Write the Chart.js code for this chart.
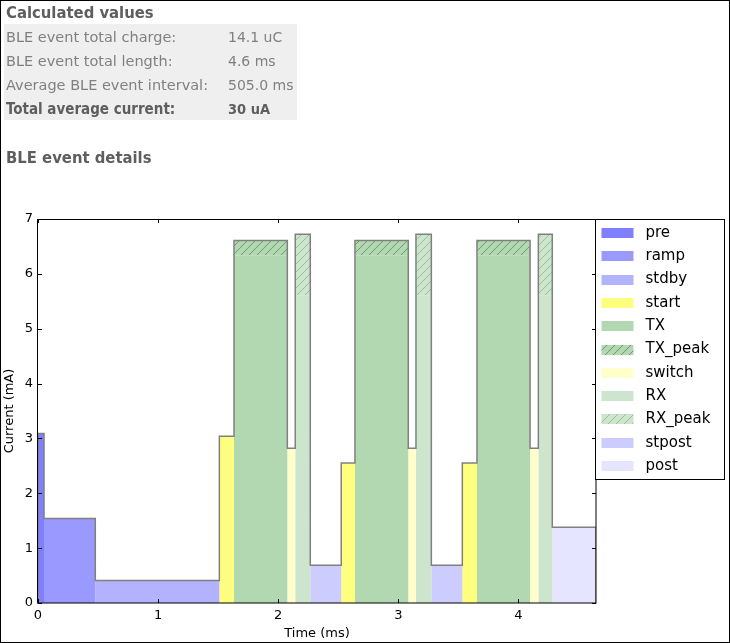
<!DOCTYPE html>
<html>
<head>
<meta charset="utf-8">
<script src="https://cdn.jsdelivr.net/npm/chart.js@4/dist/chart.umd.min.js"></script>
<style>
html,body{margin:0;padding:0;background:#fff;}
body{width:730px;height:643px;position:relative;overflow:hidden;font-family:"DejaVu Sans",sans-serif;}
#frame{position:absolute;left:0;top:0;width:730px;height:643px;box-sizing:border-box;border:1px solid #000;pointer-events:none;z-index:5;}
#wrap{position:absolute;left:0;top:0;width:730px;height:643px;z-index:1;}
#tbl{position:absolute;left:4px;top:24px;width:293px;height:96px;background:#efefef;z-index:0;}
.h{position:absolute;left:6px;font-family:"DejaVu Sans Condensed","DejaVu Sans",sans-serif;font-weight:bold;font-size:16.5px;color:#5e5e5e;line-height:20px;white-space:nowrap;z-index:2;}
.row{position:absolute;left:6px;font-size:14.5px;color:#808080;height:24px;line-height:24px;white-space:nowrap;z-index:2;}
.row .v{position:absolute;left:222px;font-size:14px;}
.row.b{font-family:"DejaVu Sans Condensed","DejaVu Sans",sans-serif;font-weight:bold;font-size:15px;color:#5e5e5e;}
.row.b .v{font-size:14.5px;}
</style>
</head>
<body>
<div id="tbl"></div>
<div class="h" style="top:3px">Calculated values</div>
<div class="row" style="top:25px">BLE event total charge:<span class="v">14.1 uC</span></div>
<div class="row" style="top:49px">BLE event total length:<span class="v">4.6 ms</span></div>
<div class="row" style="top:73px">Average BLE event interval:<span class="v">505.0 ms</span></div>
<div class="row b" style="top:97px">Total average current:<span class="v">30 uA</span></div>
<div class="h" style="top:148px">BLE event details</div>
<div id="wrap"><canvas id="c" width="730" height="643"></canvas></div>
<div id="frame"></div>
<script>
// ---- data ----
const categories = ['pre','ramp','stdby','start','TX','TX_peak','switch','RX','RX_peak','stpost','post'];
const categoryColors = ['#7f7fff','#9999ff','#b2b2ff','#ffff7f','#b2d8b2','hatchTX','#ffffcc','#cce5cc','hatchRX','#ccccff','#e5e5ff'];
const segCategory = ['pre','ramp','stdby','start','TX','switch','RX','stpost','start','TX','switch','RX','stpost','start','TX','switch','RX','post'];
const segStartMs = [0, 0.05, 0.477, 1.51, 1.632, 2.076, 2.142, 2.267, 2.525, 2.639, 3.083, 3.147, 3.275, 3.533, 3.655, 4.097, 4.166, 4.282];
const segEndMs   = [0.05, 0.477, 1.51, 1.632, 2.076, 2.142, 2.267, 2.525, 2.639, 3.083, 3.147, 3.275, 3.533, 3.655, 4.097, 4.166, 4.282, 4.646];
const segCurrentMa = [3.09, 1.54, 0.41, 3.04, 6.61, 2.82, 6.72, 0.69, 2.55, 6.61, 2.82, 6.72, 0.69, 2.55, 6.61, 2.82, 6.72, 1.38];
const segPeakBaseMa = [null, null, null, null, 6.34, null, 5.61, null, null, 6.34, null, 5.61, null, null, 6.34, null, 5.61, null];
const xTickValues = [0, 1, 2, 3, 4];
const yTickValues = [0, 1, 2, 3, 4, 5, 6, 7];

// ---- hatch patterns ----
function makeHatch(bg, line) {
  const s = 8, cv = document.createElement('canvas');
  cv.width = s; cv.height = s;
  const g = cv.getContext('2d');
  g.fillStyle = bg; g.fillRect(0, 0, s, s);
  g.strokeStyle = line; g.lineWidth = 1;
  g.beginPath();
  g.moveTo(0, s); g.lineTo(s, 0);
  g.moveTo(-1, 1); g.lineTo(1, -1);
  g.moveTo(s - 1, s + 1); g.lineTo(s + 1, s - 1);
  g.stroke();
  return document.getElementById('c').getContext('2d').createPattern(cv, 'repeat');
}
const fills = {
  hatchTX: makeHatch('#b2d8b2', 'rgba(50,110,50,0.55)'),
  hatchRX: makeHatch('#cce5cc', 'rgba(50,110,50,0.32)')
};
function colorOf(cat) {
  const c = categoryColors[categories.indexOf(cat)];
  return fills[c] || c;
}

// ---- datasets ----
function rect(x0, x1, y0, y1) {
  return [{x: x0, y: y0}, {x: x0, y: y1}, {x: x1, y: y1}, {x: x1, y: y0}];
}
const datasets = [];
// envelope outline
const env = [{x: segStartMs[0], y: 0}];
segCategory.forEach((c, i) => {
  env.push({x: segStartMs[i], y: segCurrentMa[i]});
  env.push({x: segEndMs[i], y: segCurrentMa[i]});
});
env.push({x: segEndMs[segEndMs.length - 1], y: 0});
datasets.push({label: 'outline', data: env, borderColor: '#808080', borderWidth: 1.5,
  pointRadius: 0, fill: false, tension: 0, order: 0});
segCategory.forEach((c, i) => {
  const base = segPeakBaseMa[i];
  const solidTop = base != null ? base : segCurrentMa[i];
  datasets.push({label: c, data: rect(segStartMs[i], segEndMs[i], 0, solidTop),
    backgroundColor: colorOf(c), borderWidth: 0, borderColor: 'rgba(0,0,0,0)',
    pointRadius: 0, fill: 'shape', tension: 0, order: 1});
  if (base != null) {
    const pc = c + '_peak';
    datasets.push({label: pc, data: rect(segStartMs[i], segEndMs[i], base, segCurrentMa[i]),
      backgroundColor: colorOf(pc), borderWidth: 0, borderColor: 'rgba(0,0,0,0)',
      pointRadius: 0, fill: 'shape', tension: 0, order: 1});
  }
});

// ---- plugin: frame, inward ticks, legend ----
const decor = {
  id: 'decor',
  afterDatasetsDraw(chart) {
    const ctx = chart.ctx, a = chart.chartArea;
    const xs = chart.scales.x, ys = chart.scales.y;
    ctx.save();
    ctx.strokeStyle = '#000'; ctx.lineWidth = 1;
    ctx.beginPath();
    xTickValues.forEach(v => {
      const p = Math.round(xs.getPixelForValue(v)) + 0.5;
      ctx.moveTo(p, a.bottom); ctx.lineTo(p, a.bottom - 4);
      ctx.moveTo(p, a.top); ctx.lineTo(p, a.top + 4);
    });
    yTickValues.forEach(v => {
      const p = Math.round(ys.getPixelForValue(v)) + 0.5;
      ctx.moveTo(a.left, p); ctx.lineTo(a.left + 4, p);
      ctx.moveTo(a.right, p); ctx.lineTo(a.right - 4, p);
    });
    ctx.stroke();
    ctx.strokeRect(Math.round(a.left) - 0.5, Math.round(a.top) + 0.5,
      Math.round(a.right - a.left) + 0.5, Math.round(a.bottom - a.top) - 0.5);
    ctx.restore();
  },
  afterDraw(chart) {
    const ctx = chart.ctx, a = chart.chartArea;
    const L = Math.round(a.right) - 0.5, T = Math.round(a.top) + 0.5;
    const W = 129, H = 260;
    ctx.save();
    ctx.fillStyle = '#fff';
    ctx.fillRect(L, T, W, H);
    ctx.strokeStyle = '#000'; ctx.lineWidth = 1;
    ctx.strokeRect(L, T, W, H);
    ctx.font = '15px "DejaVu Sans"';
    ctx.textBaseline = 'middle';
    ctx.textAlign = 'left';
    categories.forEach((c, i) => {
      const cy = a.top + 14 + i * 23.3;
      ctx.fillStyle = colorOf(c);
      ctx.fillRect(L + 6, Math.round(cy - 5), 32, 10);
      ctx.fillStyle = '#000';
      ctx.fillText(c, L + 50, cy);
    });
    ctx.restore();
  }
};

new Chart(document.getElementById('c'), {
  type: 'line',
  data: {datasets},
  options: {
    responsive: false,
    animation: false,
    events: [],
    layout: {padding: {top: 219, right: 134, left: 0, bottom: 0}},
    plugins: {legend: {display: false}, tooltip: {enabled: false}},
    scales: {
      x: {
        type: 'linear', min: 0, max: 4.646,
        afterFit: s => { s.height = 40; },
        afterBuildTicks: s => { s.ticks = xTickValues.map(v => ({value: v})); },
        grid: {display: false, drawTicks: false},
        border: {display: false},
        ticks: {padding: 5, color: '#000', font: {family: 'DejaVu Sans', size: 13}, maxRotation: 0},
        title: {display: true, text: 'Time (ms)', color: '#000', font: {family: 'DejaVu Sans', size: 13}, padding: {top: 0, bottom: 2}}
      },
      y: {
        type: 'linear', min: 0, max: 7,
        afterFit: s => { s.width = 38; },
        afterBuildTicks: s => { s.ticks = yTickValues.map(v => ({value: v})); },
        grid: {display: false, drawTicks: false},
        border: {display: false},
        ticks: {padding: 5, color: '#000', font: {family: 'DejaVu Sans', size: 13}},
        title: {display: true, text: 'Current (mA)', color: '#000', font: {family: 'DejaVu Sans', size: 13}, padding: {top: 2, bottom: 0}}
      }
    }
  },
  plugins: [decor]
});
</script>
</body>
</html>
